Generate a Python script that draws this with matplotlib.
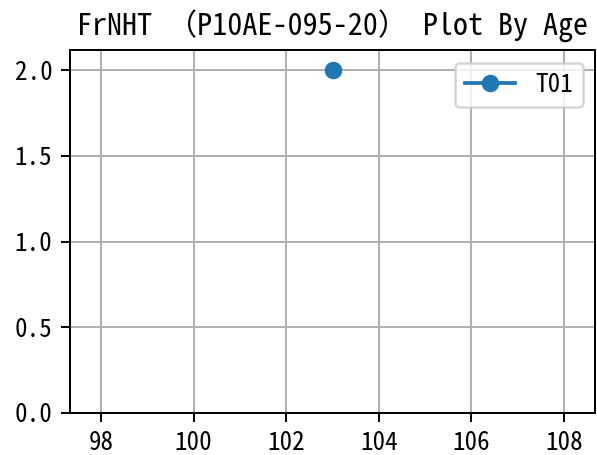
import matplotlib
matplotlib.use("Agg")
import matplotlib.pyplot as plt

# Sample measurements by age
ages = [103]
values = [2.0]
series_label = "T01"
title_text = "FrNHT （P10AE-095-20） Plot By Age"
x_ticks = [98, 100, 102, 104, 106, 108]
y_ticks = [0.0, 0.5, 1.0, 1.5, 2.0]

plt.rcParams["font.family"] = ["Noto Sans Mono CJK SC", "DejaVu Sans"]

dpi = 180
fig = plt.figure(figsize=(597 / dpi, 455 / dpi), dpi=dpi)
ax = fig.add_axes([70 / 597, 42 / 455, 525 / 597, 363 / 455])

ax.plot(ages, values, marker="o", color="#1f77b4", label=series_label)
ax.set_xlim(97.333, 108.667)
ax.set_ylim(0, 2.117)
ax.set_xticks(x_ticks)
ax.set_yticks(y_ticks)
ax.set_yticklabels([f"{v:.1f}" for v in y_ticks])
ax.grid(True)
ax.set_title(title_text)
ax.legend(loc="upper right")

fig.savefig("out.png", dpi=dpi)
